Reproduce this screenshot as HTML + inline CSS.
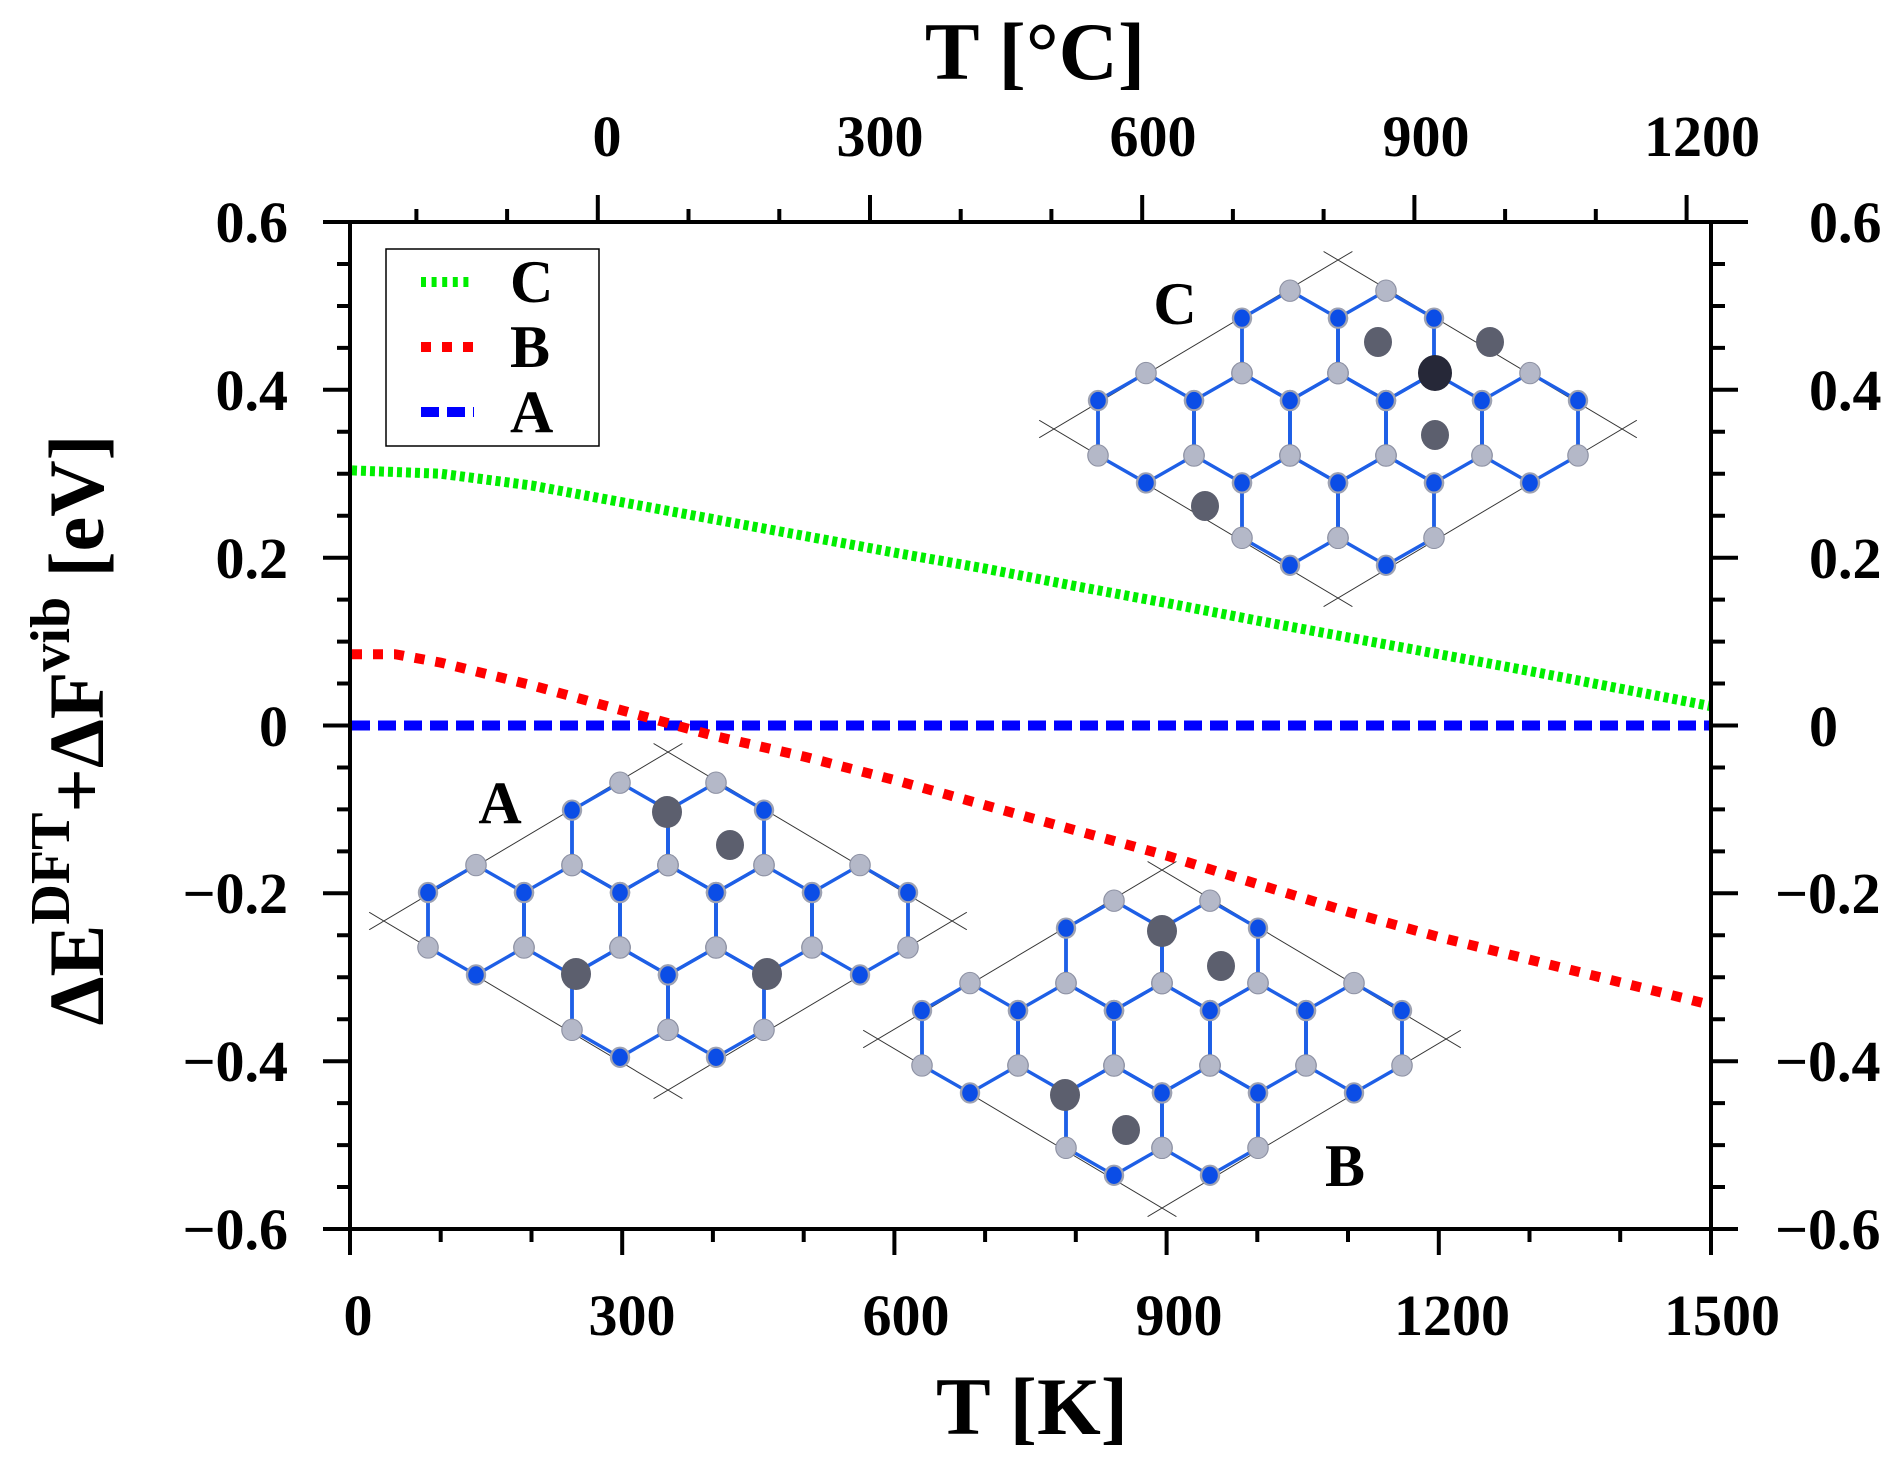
<!DOCTYPE html>
<html><head><meta charset="utf-8"><style>
html,body{margin:0;padding:0;background:#fff;}
svg{display:block;}
text{font-family:"Liberation Serif","Times New Roman",serif;font-weight:bold;}
</style></head><body>
<svg width="1899" height="1462" viewBox="0 0 1899 1462" xmlns="http://www.w3.org/2000/svg">
<defs>
<g id="hex">
<polygon points="0,-54 40,-27 40,27 0,54 -40,27 -40,-27" fill="none" stroke="#1e5fe6" stroke-width="3.2"/>
<g fill="#b4b8c8" stroke="#8e92a4" stroke-width="1">
<ellipse cx="0" cy="-54" rx="8.5" ry="10.5"/><ellipse cx="40" cy="27" rx="8.5" ry="10.5"/><ellipse cx="-40" cy="27" rx="8.5" ry="10.5"/>
</g>
<g fill="#0b4de6" stroke="#9ea2b2" stroke-width="2">
<ellipse cx="40" cy="-27" rx="7.5" ry="9.5"/><ellipse cx="0" cy="54" rx="7.5" ry="9.5"/><ellipse cx="-40" cy="-27" rx="7.5" ry="9.5"/>
</g>
</g>
<g id="lat">
<g stroke="#333" stroke-width="0.9" fill="none">
<path d="M-249,9.6 L12,-173.6 M-12,-173.6 L249,9.6 M249,-7.6 L-12,175.6 M12,175.6 L-249,-7.6"/>
</g>
<use href="#hex" x="-40" y="-81"/><use href="#hex" x="40" y="-81"/>
<use href="#hex" x="-160" y="0"/><use href="#hex" x="-80" y="0"/><use href="#hex" x="0" y="0"/><use href="#hex" x="80" y="0"/><use href="#hex" x="160" y="0"/>
<use href="#hex" x="-40" y="81"/><use href="#hex" x="40" y="81"/>
</g>
</defs>

<!-- insets -->
<g transform="translate(1338,428)">
<use href="#lat" transform="scale(1.2,1.017)"/>
<g fill="#5c5f6e"><ellipse cx="40" cy="-86" rx="14" ry="15"/><ellipse cx="152" cy="-86" rx="14" ry="15"/><ellipse cx="97" cy="7" rx="14" ry="15"/><ellipse cx="-133" cy="78" rx="14" ry="15"/></g>
<ellipse cx="97" cy="-55" rx="17" ry="18" fill="#262838"/>
</g>
<g transform="translate(668,920)">
<use href="#lat" transform="scale(1.2,1.017)"/>
<g fill="#5c5f6e"><ellipse cx="-1" cy="-108" rx="15" ry="16"/><ellipse cx="62" cy="-75" rx="14" ry="15"/><ellipse cx="-92" cy="54" rx="15" ry="16"/><ellipse cx="99" cy="54" rx="15" ry="16"/></g>
</g>
<g transform="translate(1162,1038)">
<use href="#lat" transform="scale(1.2,1.017)"/>
<g fill="#5c5f6e"><ellipse cx="0" cy="-107" rx="15" ry="16"/><ellipse cx="59" cy="-72" rx="14" ry="15"/><ellipse cx="-97" cy="57" rx="15" ry="16"/><ellipse cx="-36" cy="92" rx="14" ry="15"/></g>
</g>
<text x="1175" y="324" font-size="60" text-anchor="middle">C</text>
<text x="500" y="823" font-size="60" text-anchor="middle">A</text>
<text x="1345" y="1186" font-size="60" text-anchor="middle">B</text>

<!-- series -->
<polyline fill="none" stroke="#0000ff" stroke-width="10" stroke-dasharray="18 8" points="352,725.5 1711,725.5"/>
<polyline fill="none" stroke="#ff0000" stroke-width="10" stroke-dasharray="10 11" points="352,654.2 395,654.2 440.7,662.6 531.5,685.2 622.2,710.4 712.9,735.6 803.7,756.5 894.4,780 985.1,805.2 1075.8,830.4 1166.6,855.6 1257.3,884.1 1348,911.8 1438.8,937 1529.5,959.6 1620.2,982.3 1711,1005"/>
<polyline fill="none" stroke="#00ee00" stroke-width="10" stroke-dasharray="5 4" points="352,470.4 440.7,473.7 531.5,485.5 622.2,502.3 712.9,519.1 803.7,535.8 894.4,552.6 985.1,568.6 1075.8,586.2 1166.6,603 1257.3,620.6 1348,637.4 1438.8,654.2 1529.5,671 1620.2,688.6 1711,706.2"/>

<!-- axes -->
<g stroke="#000" stroke-width="4" fill="none">
<line x1="323" y1="222" x2="1748" y2="222"/>
<line x1="323" y1="1229" x2="1738" y2="1229"/>
<line x1="350" y1="222" x2="350" y2="1229"/>
<line x1="1711" y1="222" x2="1711" y2="1229"/>
<path d="M323,222H350M323,389.8H350M323,557.7H350M323,725.5H350M323,893.3H350M323,1061.2H350M323,1229H350
M1711,222H1738M1711,389.8H1738M1711,557.7H1738M1711,725.5H1738M1711,893.3H1738M1711,1061.2H1738M1711,1229H1738"/>
<path d="M337,264H350M337,306H350M337,347.9H350M337,431.8H350M337,473.7H350M337,515.7H350M337,599.6H350M337,641.6H350M337,683.5H350M337,767.5H350M337,809.4H350M337,851.4H350M337,935.3H350M337,977.2H350M337,1019.2H350M337,1103.1H350M337,1145.1H350M337,1187H350
M1711,264H1725M1711,306H1725M1711,347.9H1725M1711,431.8H1725M1711,473.7H1725M1711,515.7H1725M1711,599.6H1725M1711,641.6H1725M1711,683.5H1725M1711,767.5H1725M1711,809.4H1725M1711,851.4H1725M1711,935.3H1725M1711,977.2H1725M1711,1019.2H1725M1711,1103.1H1725M1711,1145.1H1725M1711,1187H1725"/>
<path d="M350,1229V1255M622.2,1229V1255M894.4,1229V1255M1166.6,1229V1255M1438.8,1229V1255M1711,1229V1255"/>
<path d="M440.7,1229V1242M531.5,1229V1242M712.9,1229V1242M803.7,1229V1242M985.1,1229V1242M1075.8,1229V1242M1257.3,1229V1242M1348,1229V1242M1529.5,1229V1242M1620.2,1229V1242"/>
<path d="M597.8,222V195M870,222V195M1142.2,222V195M1414.4,222V195M1686.6,222V195"/>
<path d="M416.4,222V209M507.1,222V209M688.5,222V209M779.3,222V209M960.7,222V209M1051.4,222V209M1232.9,222V209M1323.6,222V209M1505.1,222V209M1595.8,222V209"/>
</g>

<!-- legend -->
<rect x="386" y="249" width="213" height="197" fill="#fff" stroke="#000" stroke-width="1.5"/>
<line x1="421" y1="282" x2="471" y2="282" stroke="#00ee00" stroke-width="10" stroke-dasharray="5 5.6"/>
<line x1="421" y1="347" x2="474" y2="347" stroke="#ff0000" stroke-width="10" stroke-dasharray="10 11"/>
<line x1="421" y1="412" x2="474" y2="412" stroke="#0000ff" stroke-width="10" stroke-dasharray="18 8"/>
<g><text x="510" y="302" font-size="60">C</text><text x="510" y="367" font-size="60">B</text><text x="510" y="432" font-size="60">A</text></g>

<!-- tick labels -->
<g>
<text x="288" y="242" font-size="58" text-anchor="end">0.6</text><text x="288" y="410" font-size="58" text-anchor="end">0.4</text><text x="288" y="578" font-size="58" text-anchor="end">0.2</text><text x="288" y="746" font-size="58" text-anchor="end">0</text>
<text x="288" y="913" font-size="58" text-anchor="end">−0.2</text><text x="288" y="1081" font-size="58" text-anchor="end">−0.4</text><text x="288" y="1249" font-size="58" text-anchor="end">−0.6</text>
</g>
<g>
<text x="1809" y="242" font-size="58">0.6</text><text x="1809" y="410" font-size="58">0.4</text><text x="1809" y="578" font-size="58">0.2</text><text x="1809" y="746" font-size="58">0</text>
<text x="1775" y="913" font-size="58">−0.2</text><text x="1775" y="1081" font-size="58">−0.4</text><text x="1775" y="1249" font-size="58">−0.6</text>
</g>
<g>
<text x="358" y="1335" font-size="58" text-anchor="middle">0</text><text x="632" y="1335" font-size="58" text-anchor="middle">300</text><text x="906" y="1335" font-size="58" text-anchor="middle">600</text><text x="1179" y="1335" font-size="58" text-anchor="middle">900</text><text x="1452" y="1335" font-size="58" text-anchor="middle">1200</text><text x="1722" y="1335" font-size="58" text-anchor="middle">1500</text>
<text x="607" y="156" font-size="58" text-anchor="middle">0</text><text x="880" y="156" font-size="58" text-anchor="middle">300</text><text x="1153" y="156" font-size="58" text-anchor="middle">600</text><text x="1426" y="156" font-size="58" text-anchor="middle">900</text><text x="1702" y="156" font-size="58" text-anchor="middle">1200</text>
</g>
<text x="1035" y="79" font-size="82" text-anchor="middle">T [°C]</text>
<text x="1032" y="1434" font-size="82" text-anchor="middle">T [K]</text>
<text transform="translate(103,730) rotate(-90)" font-size="78" text-anchor="middle">ΔE<tspan font-size="56" dy="-34">DFT</tspan><tspan dy="34">+ΔF</tspan><tspan font-size="56" dy="-34">vib</tspan><tspan dy="34"> [eV]</tspan></text>
</svg>
</body></html>
